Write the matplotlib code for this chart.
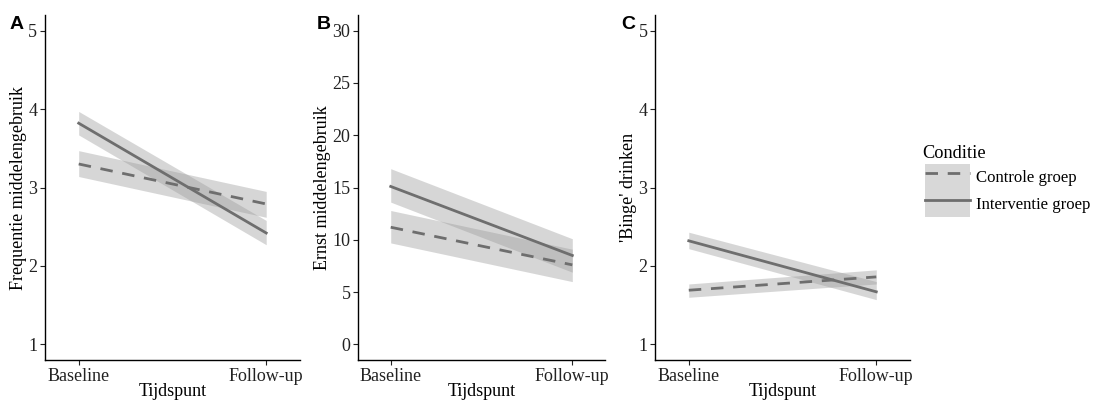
import numpy as np
import matplotlib
matplotlib.use("Agg")
import matplotlib.pyplot as plt
from matplotlib.lines import Line2D
from matplotlib.patches import Patch

plt.rcParams["font.family"] = ["Liberation Serif", "DejaVu Serif"]

timepoints = ["Baseline", "Follow-up"]
groups = ["Controle groep", "Interventie groep"]

# panel A: Frequentie middelengebruik
freq_mean = {"Controle groep": [3.30, 2.79], "Interventie groep": [3.82, 2.42]}
freq_low = {"Controle groep": [3.14, 2.62], "Interventie groep": [3.67, 2.27]}
freq_high = {"Controle groep": [3.47, 2.95], "Interventie groep": [3.97, 2.58]}

# panel B: Ernst middelengebruik
ernst_mean = {"Controle groep": [11.2, 7.6], "Interventie groep": [15.1, 8.5]}
ernst_low = {"Controle groep": [9.7, 6.0], "Interventie groep": [13.6, 6.9]}
ernst_high = {"Controle groep": [12.8, 9.1], "Interventie groep": [16.8, 10.1]}

# panel C: 'Binge' drinken
binge_mean = {"Controle groep": [1.69, 1.86], "Interventie groep": [2.32, 1.67]}
binge_low = {"Controle groep": [1.60, 1.77], "Interventie groep": [2.22, 1.57]}
binge_high = {"Controle groep": [1.77, 1.95], "Interventie groep": [2.43, 1.80]}

line_col = "#6e6e6e"
band_col = "#9a9a9a"
band_alpha = 0.4
styles = {"Controle groep": (0, (4.5, 3.5)), "Interventie groep": "-"}

# letter, y label, data, y ticks, y limits, axes left/right (figure fraction), letter x
panels = [
    ("A", "Frequentie middelengebruik", freq_mean, freq_low, freq_high, [1, 2, 3, 4, 5], (0.8, 5.2), 0.0408, 0.2722, 0.009),
    ("B", "Ernst middelengebruik", ernst_mean, ernst_low, ernst_high, [0, 5, 10, 15, 20, 25, 30], (-1.5, 31.5), 0.3249, 0.5490, 0.287),
    ("C", "'Binge' drinken", binge_mean, binge_low, binge_high, [1, 2, 3, 4, 5], (0.8, 5.2), 0.5944, 0.8258, 0.564),
]

fig = plt.figure(figsize=(11.02, 4.01), dpi=100)
x = np.arange(len(timepoints))

for letter, ylabel, mean, low, high, yticks, ylim, left, right, lx in panels:
    ax = fig.add_axes([left, 0.1022, right - left, 0.8604])
    for g in groups:
        ax.fill_between(x, low[g], high[g], color=band_col, alpha=band_alpha, lw=0)
        ax.plot(x, mean[g], color=line_col, lw=2, linestyle=styles[g])
    ax.set_xlim(-0.18, 1.18)
    ax.set_ylim(*ylim)
    ax.set_xticks(x)
    ax.set_xticklabels(timepoints)
    ax.set_yticks(yticks)
    ax.tick_params(labelsize=13, colors="#222222", length=3.5, width=0.8, pad=2)
    ax.set_xlabel("Tijdspunt", fontsize=13, labelpad=-1)
    ax.set_ylabel(ylabel, fontsize=13, labelpad=1)
    for s in ["top", "right"]:
        ax.spines[s].set_visible(False)
    for s in ["left", "bottom"]:
        ax.spines[s].set_linewidth(1.0)
    fig.text(lx, 0.96, letter, fontsize=14, fontweight="bold",
             family="Liberation Sans", va="top", ha="left")

# legend: title as its own text, keys stacked without gaps
fig.text(922 / 1102, 1 - 153 / 401, "Conditie", fontsize=13.2, va="center", ha="left")
handles = [
    (Patch(facecolor="#d8d8d8", edgecolor="none"),
     Line2D([], [], color=line_col, lw=2, linestyle=styles[g]))
    for g in groups
]
fig.legend(handles, groups, loc="upper left",
           bbox_to_anchor=(925 / 1102, 1 - 164 / 401), frameon=False, fontsize=12.1,
           handlelength=2.65, handleheight=2.03,
           labelspacing=0, handletextpad=0.4, borderpad=0, borderaxespad=0)

fig.savefig("out.png", dpi=100)
